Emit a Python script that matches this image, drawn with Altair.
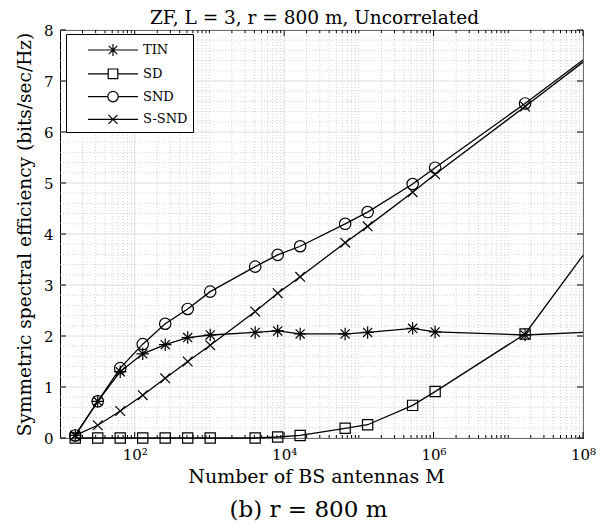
import altair as alt
import pandas as pd

# ---- data ----
M = [16, 32, 64, 128, 256, 512, 1024, 4096, 8192, 16384, 65536, 131072,
     524288, 1048576, 16777216, 100000000]
TIN = [0.05, 0.72, 1.30, 1.65, 1.83, 1.97, 2.02, 2.07, 2.10, 2.04, 2.04, 2.07,
       2.15, 2.08, 2.02, 2.07]
SD = [0.0, 0.0, 0.0, 0.0, 0.0, 0.0, 0.0, 0.0, 0.02, 0.05, 0.19, 0.26,
      0.64, 0.91, 2.04, 3.58]
SND = [0.05, 0.72, 1.37, 1.84, 2.24, 2.53, 2.87, 3.36, 3.59, 3.76, 4.20, 4.43,
       4.98, 5.30, 6.56, 7.41]
SSND = [0.05, 0.25, 0.53, 0.84, 1.17, 1.50, 1.82, 2.48, 2.84, 3.16, 3.83, 4.15,
        4.82, 5.17, 6.50, 7.37]
series_names = ["TIN", "SD", "SND", "S-SND"]

x_major = [1e2, 1e4, 1e6, 1e8]
x_minor = [k * 10 ** d for d in range(1, 8) for k in range(1, 10)
           if not (k == 1 and d in (1, 2, 4, 6))]
y_major = [0, 1, 2, 3, 4, 5, 6, 7, 8]
y_minor = [i / 5 for i in range(1, 40) if i % 5 != 0]

title_text = "ZF, L = 3, r = 800 m, Uncorrelated"
caption_text = "(b) r = 800 m"
x_title = "Number of BS antennas M"
y_title = "Symmetric spectral efficiency (bits/sec/Hz)"

W, H = 523, 408
FONT = "DejaVu Serif"

rows = []
for name, vals in zip(series_names, [TIN, SD, SND, SSND]):
    for m, v in zip(M, vals):
        rows.append({"M": m, "v": v, "series": name})
df = pd.DataFrame(rows)

xscale = alt.Scale(type="log", domain=[10, 1e8], nice=False)
yscale = alt.Scale(domain=[0, 8], nice=False)

xaxis = alt.Axis(values=x_major, grid=False, ticks=False,
                 labelExpr="'10' + (datum.value == 100 ? '²' : datum.value == 10000 ? '⁴' : datum.value == 1000000 ? '⁶' : '⁸')",
                 title=x_title, titleFontSize=19, titleFontWeight="normal", titlePadding=5,
                 titleX=256,
                 labelFontSize=15, labelPadding=9, labelFlush=False)
yaxis = alt.Axis(values=y_major, grid=False, ticks=False, title=y_title,
                 titleFontSize=18.5, titleFontWeight="normal", titlePadding=9,
                 labelFontSize=15, labelPadding=7)

def X(field="M"):
    return alt.X(f"{field}:Q", scale=xscale, axis=xaxis)

def Y(field="v"):
    return alt.Y(f"{field}:Q", scale=yscale, axis=yaxis)

marker_paths = [
    "M0,-1.1V1.1M-1.1,0H1.1M-0.8,-0.8L0.8,0.8M-0.8,0.8L0.8,-0.8",
    "M-0.9,-0.9H0.9V0.9H-0.9Z",
    "M1,0A1,1,0,1,1,-1,0A1,1,0,1,1,1,0",
    "M-0.85,-0.85L0.85,0.85M-0.85,0.85L0.85,-0.85",
]
legend_paths = [
    "M-2.5,0H2.5M0,-0.6V0.6M-0.42,-0.42L0.42,0.42M-0.42,0.42L0.42,-0.42",
    "M-2.5,0H-0.48M0.48,0H2.5M-0.48,-0.48H0.48V0.48H-0.48Z",
    "M-2.5,0H-0.52M0.52,0H2.5M0.52,0A0.52,0.52,0,1,1,-0.52,0A0.52,0.52,0,1,1,0.52,0",
    "M-2.5,0H2.5M-0.45,-0.45L0.45,0.45M-0.45,0.45L0.45,-0.45",
]

gx_minor = pd.DataFrame({"M": x_minor})
gx_major = pd.DataFrame({"M": x_major})
gy_minor = pd.DataFrame({"v": y_minor})
gy_major = pd.DataFrame({"v": y_major})

grid_minor_x = alt.Chart(gx_minor).mark_rule(color="#c4c4c4", strokeDash=[1, 2], strokeWidth=0.8).encode(x=X())
grid_minor_y = alt.Chart(gy_minor).mark_rule(color="#c4c4c4", strokeDash=[1, 2], strokeWidth=0.8).encode(y=Y())
grid_major_x = alt.Chart(gx_major).mark_rule(color="#dedede", strokeWidth=1).encode(x=X())
grid_major_y = alt.Chart(gy_major).mark_rule(color="#dedede", strokeWidth=1).encode(y=Y())

lines = alt.Chart(df).mark_line(color="black", strokeWidth=1.3).encode(
    x=X(), y=Y(), detail="series:N")

markers = alt.Chart(df).transform_filter(alt.datum.M < 1e8).mark_point(
    filled=False, color="black", strokeWidth=1.2, size=130, opacity=1).encode(
    x=X(), y=Y(),
    shape=alt.Shape("series:N", scale=alt.Scale(domain=series_names, range=marker_paths), legend=None),
)

legend_layer = alt.Chart(df).transform_filter(alt.datum.M < 0).mark_point(
    filled=False, color="black", strokeWidth=1.2, opacity=1).encode(
    x=X(), y=Y(),
    shape=alt.Shape("series:N", scale=alt.Scale(domain=series_names, range=legend_paths),
                    legend=alt.Legend(title=None, orient="none", legendX=6, legendY=4,
                                      symbolSize=400, symbolStrokeColor="black",
                                      symbolFillColor="transparent", symbolStrokeWidth=1.2,
                                      symbolOffset=31, labelOffset=19, rowPadding=3.8,
                                      padding=5, strokeColor="black", fillColor="white",
                                      labelFont=FONT, labelFontSize=13, labelColor="black")),
)

ticks_bottom_major = alt.Chart(gx_major).mark_rule(color="black").encode(
    x=X(), y=alt.value(H), y2=alt.value(H - 6))
ticks_top_major = alt.Chart(gx_major).mark_rule(color="black").encode(
    x=X(), y=alt.value(0), y2=alt.value(6))
ticks_bottom_minor = alt.Chart(gx_minor).mark_rule(color="black").encode(
    x=X(), y=alt.value(H), y2=alt.value(H - 3))
ticks_top_minor = alt.Chart(gx_minor).mark_rule(color="black").encode(
    x=X(), y=alt.value(0), y2=alt.value(3))
ticks_left = alt.Chart(gy_major).mark_rule(color="black").encode(
    y=Y(), x=alt.value(0), x2=alt.value(6))
ticks_right = alt.Chart(gy_major).mark_rule(color="black").encode(
    y=Y(), x=alt.value(W), x2=alt.value(W - 6))

caption = alt.Chart(pd.DataFrame({"t": [caption_text]})).mark_text(
    font=FONT, fontSize=23, color="black", baseline="middle", align="center").encode(
    text="t:N", x=alt.value(W / 2 - 13), y=alt.value(480))

title = alt.Chart(pd.DataFrame({"t": [title_text]})).mark_text(
    font=FONT, fontSize=18.5, color="black", baseline="alphabetic", align="center").encode(
    text="t:N", x=alt.value(W / 2 - 7), y=alt.value(-6))

chart = alt.layer(
    grid_minor_x, grid_minor_y, grid_major_x, grid_major_y,
    lines, markers,
    ticks_bottom_major, ticks_top_major, ticks_bottom_minor, ticks_top_minor,
    ticks_left, ticks_right,
    legend_layer, caption, title,
).resolve_scale(shape="independent").properties(
    width=W, height=H,
    autosize=alt.AutoSizeParams(type="none"),
    padding={"left": 52, "top": 22, "right": 22, "bottom": 85},
).configure_view(stroke="black", strokeWidth=1).configure_axis(
    domainColor="black", labelColor="black", titleColor="black",
    labelFont=FONT, titleFont=FONT,
)

chart.save("out.html", embed_options={"renderer": "svg", "actions": False})
